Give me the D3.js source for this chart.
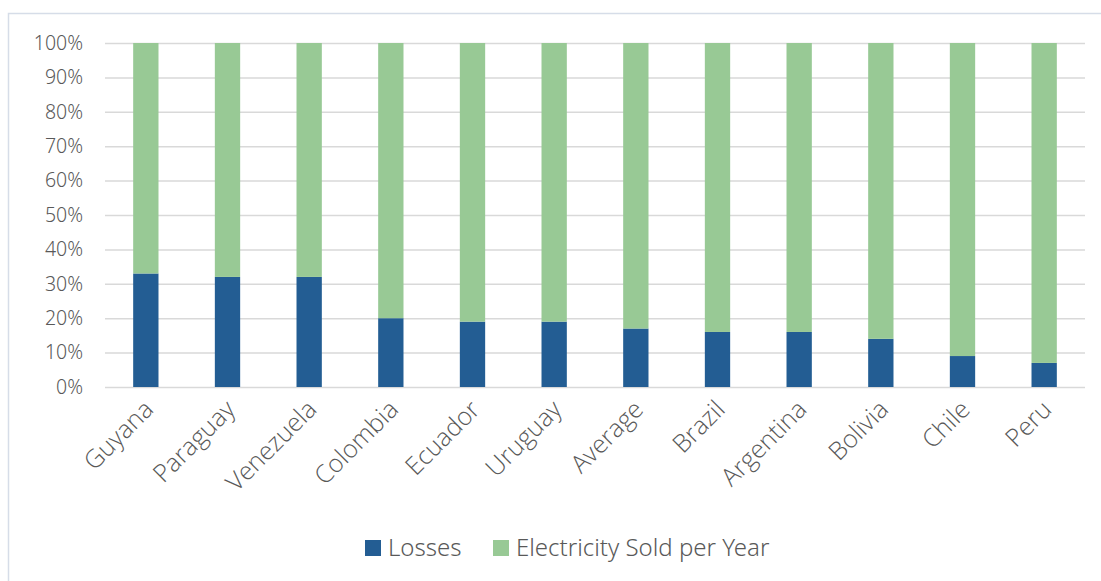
<!DOCTYPE html>
<html><head><meta charset="utf-8">
<script src="https://cdn.jsdelivr.net/npm/d3@7"></script>
<style>
html,body{margin:0;padding:0;background:#fff;}
svg{display:block;}
</style></head>
<body><svg id="c" width="1101" height="581"></svg>
<script>
const categories = ["Guyana","Paraguay","Venezuela","Colombia","Ecuador","Uruguay","Average","Brazil","Argentina","Bolivia","Chile","Peru"];
const losses = [33,32,32,20,19,19,17,16,16,14,9,7];
const sold = losses.map(v => 100 - v);
const seriesNames = ["Losses","Electricity Sold per Year"];
const seriesColors = ["#235D93","#98C995"];
const yTicks = [0,10,20,30,40,50,60,70,80,90,100];

(function(){
const svg = d3.select("#c");
svg.append("rect").attr("x",8.5).attr("y",13.5).attr("width",1200).attr("height",700)
  .attr("fill","none").attr("stroke","#d6dde8").attr("stroke-width",1.5);

const pLeft = 105, pRight = 1085, pTop = 43, pBottom = 387;
const x = d3.scaleBand().domain(categories).range([pLeft,pRight]).paddingInner(0.69).paddingOuter(0.345);
const y = d3.scaleLinear().domain([0,100]).range([pBottom,pTop]);

const rows = categories.map((c,i)=>({cat:c, "Losses":losses[i], "Electricity Sold per Year":sold[i]}));
const stack = d3.stack().keys(seriesNames)(rows);

const yAxis = d3.axisLeft(y).tickValues(yTicks).tickFormat(d=>d+"%").tickSize(-(pRight-pLeft)).tickPadding(22);
const ga = svg.append("g").attr("transform",`translate(${pLeft},0)`).call(yAxis);
ga.select(".domain").remove();
ga.selectAll(".tick line").attr("stroke","#d9d9d9").attr("stroke-width",1.5);
ga.selectAll(".tick text").attr("fill","#595959").attr("font-family","'Source Sans Pro','Noto Sans',Lato,sans-serif").attr("font-weight",300).attr("font-size",19.5);

const colorOf = d3.scaleOrdinal().domain(seriesNames).range(seriesColors);
svg.append("g").selectAll("g").data(stack).join("g").attr("fill",d=>colorOf(d.key))
  .selectAll("rect").data(d=>d).join("rect")
  .attr("x",d=>x(d.data.cat)).attr("width",x.bandwidth())
  .attr("y",d=>y(d[1])).attr("height",d=>y(d[0])-y(d[1]));

const xAxis = d3.axisBottom(x).tickSize(0).tickPadding(0);
const gx = svg.append("g").attr("transform",`translate(0,${pBottom})`).call(xAxis);
gx.select(".domain").remove();
gx.selectAll(".tick text")
  .attr("font-family","'Open Sans',sans-serif").attr("font-weight",300).attr("font-size",25)
  .attr("fill","#595959").attr("text-anchor","end")
  .attr("dy",0).attr("transform","translate(9,24) rotate(-45)");

const lg = svg.append("g").attr("transform","translate(365,548)");
const items = [{name:seriesNames[0],x:0},{name:seriesNames[1],x:128}];
items.forEach((it,i)=>{
  lg.append("rect").attr("x",it.x).attr("y",-8).attr("width",16).attr("height",16).attr("fill",seriesColors[i]);
  lg.append("text").attr("x",it.x+23).attr("y",0).attr("dy","0.35em").text(it.name)
    .attr("font-family","'Source Sans Pro','Noto Sans',Lato,sans-serif").attr("font-weight",300).attr("font-size",24).attr("fill","#595959");
});
})();
</script></body></html>
